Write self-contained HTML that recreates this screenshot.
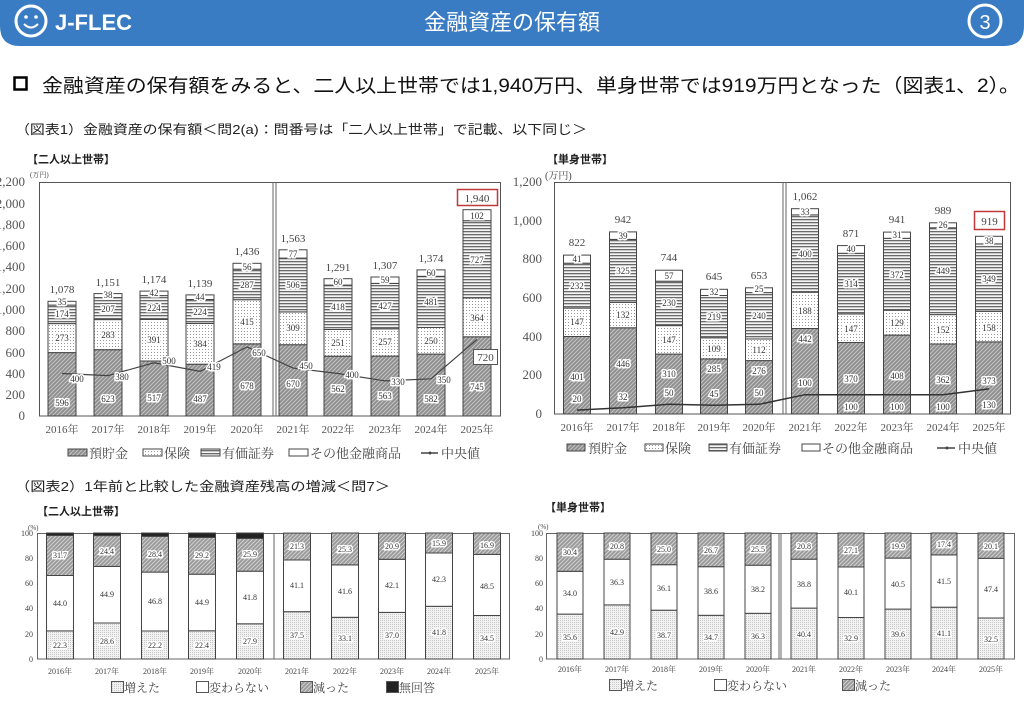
<!DOCTYPE html>
<html><head><meta charset="utf-8"><style>
html,body{margin:0;padding:0;background:#fff;width:1024px;height:710px;overflow:hidden}
svg{display:block}
.s{font-family:"Liberation Sans","Noto Sans CJK JP",sans-serif}
.m{font-family:"Liberation Serif","Noto Serif CJK SC",serif}
.l{font-family:"Liberation Serif","Noto Serif CJK SC",serif;font-size:9px;text-anchor:middle;paint-order:stroke;stroke:#fff;stroke-width:3px;fill:#333}
.t{font-family:"Liberation Serif","Noto Serif CJK SC",serif;font-size:11px;text-anchor:middle;fill:#444}
.y{font-family:"Liberation Serif",serif;font-size:13px;text-anchor:end;fill:#555}
.ys{font-family:"Liberation Serif",serif;font-size:8px;text-anchor:end;fill:#444}
.x{font-family:"Liberation Serif","Noto Serif CJK SC",serif;font-size:11px;text-anchor:middle;fill:#555}
.xs{font-family:"Liberation Serif","Noto Serif CJK SC",serif;font-size:8px;text-anchor:middle;fill:#444}
.b rect{stroke:#444;stroke-width:1}
.sl{font-family:"Liberation Serif","Noto Serif CJK SC",serif;font-size:8px;text-anchor:middle;paint-order:stroke;stroke:#fff;stroke-width:3px;fill:#333}
</style></head><body>
<svg width="1024" height="710" viewBox="0 0 1024 710" xmlns="http://www.w3.org/2000/svg">
<defs>
<pattern id="dep" patternUnits="userSpaceOnUse" width="4" height="4"><rect width="4" height="4" fill="#8e8e8e"/><path d="M0 4L4 0M-1 1L1 -1M3 5L5 3" stroke="#c4c4c4" stroke-width="1"/></pattern>
<pattern id="ins" patternUnits="userSpaceOnUse" width="3" height="3"><rect width="3" height="3" fill="#fff"/><rect x="1" y="1" width="1" height="1" fill="#9a9a9a"/></pattern>
<pattern id="sec" patternUnits="userSpaceOnUse" width="4" height="3"><rect width="4" height="3" fill="#f4f4f4"/><rect y="0" width="4" height="1.3" fill="#6a6a6a"/></pattern>
<pattern id="inc" patternUnits="userSpaceOnUse" width="2" height="2"><rect width="2" height="2" fill="#f2f2f2"/><rect width="1" height="1" fill="#c8c8c8"/></pattern>
<pattern id="dec" patternUnits="userSpaceOnUse" width="4" height="4"><rect width="4" height="4" fill="#9a9a9a"/><path d="M0 4L4 0M-1 1L1 -1M3 5L5 3" stroke="#cfcfcf" stroke-width="1"/></pattern>
</defs>

<!-- header -->
<path d="M0 0H1024V26Q1024 46 1004 46H20Q0 46 0 26Z" fill="#3a7cc3"/>
<circle cx="31" cy="21" r="15" fill="none" stroke="#fff" stroke-width="3"/>
<circle cx="26" cy="17" r="1.8" fill="#fff"/><circle cx="36" cy="17" r="1.8" fill="#fff"/>
<path d="M24 24Q31 31 38 24" stroke="#fff" stroke-width="2" fill="none"/>
<text x="55" y="30" class="s" font-size="22" font-weight="bold" fill="#fff">J-FLEC</text>
<text x="512" y="30" class="s" font-size="22" fill="#fff" text-anchor="middle">金融資産の保有額</text>
<circle cx="985" cy="21" r="16" fill="none" stroke="#fff" stroke-width="3"/>
<text x="985" y="29" class="s" font-size="20" fill="#fff" text-anchor="middle">3</text>

<rect x="14.5" y="77.5" width="12" height="12" fill="none" stroke="#000" stroke-width="2.5"/>
<text x="42" y="92" class="s" font-size="19" fill="#111" textLength="978" lengthAdjust="spacingAndGlyphs">金融資産の保有額をみると、二人以上世帯では1,940万円、単身世帯では919万円となった（図表1、2）。</text>
<text x="15" y="134" class="s" font-size="13" fill="#222" textLength="572" lengthAdjust="spacingAndGlyphs">（図表1）金融資産の保有額＜問2(a)：問番号は「二人以上世帯」で記載、以下同じ＞</text>
<text x="27" y="163" class="s" font-size="11" font-weight="bold" fill="#222">【二人以上世帯】</text>
<text x="547" y="163" class="s" font-size="11" font-weight="bold" fill="#222">【単身世帯】</text>
<text x="30" y="177" class="m" font-size="7" fill="#444">(万円)</text>
<text x="545" y="179" class="m" font-size="10" fill="#444">(万円)</text>

<!-- CHART 1 -->
<rect x="39.5" y="182.5" width="461" height="233.5" fill="none" stroke="#555"/>
<g>
<text class="y" x="25" y="420">0</text><text class="y" x="25" y="399">200</text><text class="y" x="25" y="378">400</text><text class="y" x="25" y="357">600</text><text class="y" x="25" y="335">800</text><text class="y" x="25" y="314">1,000</text><text class="y" x="25" y="293">1,200</text><text class="y" x="25" y="271">1,400</text><text class="y" x="25" y="250">1,600</text><text class="y" x="25" y="229">1,800</text><text class="y" x="25" y="208">2,000</text><text class="y" x="25" y="186">2,200</text>
</g>
<line x1="273" y1="182" x2="273" y2="416" stroke="#666"/><line x1="276" y1="182" x2="276" y2="416" stroke="#666"/>
<g class="b">
<rect x="48" y="352.6" width="28" height="63.4" fill="url(#dep)"/><rect x="48" y="323.6" width="28" height="29" fill="url(#ins)"/><rect x="48" y="305.1" width="28" height="18.5" fill="url(#sec)"/><rect x="48" y="301.3" width="28" height="3.8" fill="#fff"/>
<rect x="94" y="349.7" width="28" height="66.3" fill="url(#dep)"/><rect x="94" y="319.6" width="28" height="30.1" fill="url(#ins)"/><rect x="94" y="297.6" width="28" height="22" fill="url(#sec)"/><rect x="94" y="293.6" width="28" height="4" fill="#fff"/>
<rect x="140" y="361" width="28" height="55" fill="url(#dep)"/><rect x="140" y="319.4" width="28" height="41.6" fill="url(#ins)"/><rect x="140" y="295.6" width="28" height="23.8" fill="url(#sec)"/><rect x="140" y="291.1" width="28" height="4.5" fill="#fff"/>
<rect x="186" y="364.2" width="28" height="51.8" fill="url(#dep)"/><rect x="186" y="323.4" width="28" height="40.8" fill="url(#ins)"/><rect x="186" y="299.5" width="28" height="23.9" fill="url(#sec)"/><rect x="186" y="294.9" width="28" height="4.6" fill="#fff"/>
<rect x="233" y="343.9" width="28" height="72.1" fill="url(#dep)"/><rect x="233" y="299.7" width="28" height="44.2" fill="url(#ins)"/><rect x="233" y="269.2" width="28" height="30.5" fill="url(#sec)"/><rect x="233" y="263.3" width="28" height="5.9" fill="#fff"/>
<rect x="279" y="344.7" width="28" height="71.3" fill="url(#dep)"/><rect x="279" y="311.9" width="28" height="32.8" fill="url(#ins)"/><rect x="279" y="258.1" width="28" height="53.8" fill="url(#sec)"/><rect x="279" y="249.8" width="28" height="8.3" fill="#fff"/>
<rect x="324" y="356.2" width="28" height="59.8" fill="url(#dep)"/><rect x="324" y="329.5" width="28" height="26.7" fill="url(#ins)"/><rect x="324" y="285.1" width="28" height="44.4" fill="url(#sec)"/><rect x="324" y="278.7" width="28" height="6.4" fill="#fff"/>
<rect x="371" y="356.1" width="28" height="59.9" fill="url(#dep)"/><rect x="371" y="328.8" width="28" height="27.3" fill="url(#ins)"/><rect x="371" y="283.4" width="28" height="45.4" fill="url(#sec)"/><rect x="371" y="277" width="28" height="6.4" fill="#fff"/>
<rect x="417" y="354.1" width="28" height="61.9" fill="url(#dep)"/><rect x="417" y="327.5" width="28" height="26.6" fill="url(#ins)"/><rect x="417" y="276.3" width="28" height="51.2" fill="url(#sec)"/><rect x="417" y="269.9" width="28" height="6.4" fill="#fff"/>
<rect x="463" y="336.8" width="28" height="79.2" fill="url(#dep)"/><rect x="463" y="298" width="28" height="38.8" fill="url(#ins)"/><rect x="463" y="220.7" width="28" height="77.3" fill="url(#sec)"/><rect x="463" y="209.7" width="28" height="11" fill="#fff"/>
</g>
<g>
<text class="l" x="62" y="406">596</text><text class="l" x="62" y="341">273</text><text class="l" x="62" y="317">174</text><text class="l" x="62" y="305">35</text>
<text class="l" x="108" y="402">623</text><text class="l" x="108" y="338">283</text><text class="l" x="108" y="312">207</text><text class="l" x="108" y="298">38</text>
<text class="l" x="154" y="401">517</text><text class="l" x="154" y="343">391</text><text class="l" x="154" y="311">224</text><text class="l" x="154" y="296">42</text>
<text class="l" x="200" y="402">487</text><text class="l" x="200" y="347">384</text><text class="l" x="200" y="315">224</text><text class="l" x="200" y="300">44</text>
<text class="l" x="247" y="389">678</text><text class="l" x="247" y="325">415</text><text class="l" x="247" y="288">287</text><text class="l" x="247" y="270">56</text>
<text class="l" x="293" y="387">670</text><text class="l" x="293" y="331">309</text><text class="l" x="293" y="288">506</text><text class="l" x="293" y="257">77</text>
<text class="l" x="338" y="392">562</text><text class="l" x="338" y="346">251</text><text class="l" x="338" y="310">418</text><text class="l" x="338" y="285">60</text>
<text class="l" x="385" y="399">563</text><text class="l" x="385" y="345">257</text><text class="l" x="385" y="309">427</text><text class="l" x="385" y="283">59</text>
<text class="l" x="431" y="402">582</text><text class="l" x="431" y="344">250</text><text class="l" x="431" y="305">481</text><text class="l" x="431" y="276">60</text>
<text class="l" x="477" y="390" font-size="12">745</text><text class="l" x="477" y="321" font-size="12">364</text><text class="l" x="477" y="263" font-size="12">727</text><text class="l" x="477" y="219" font-size="12">102</text>
</g>
<g>
<text class="t" x="62" y="293">1,078</text><text class="t" x="108" y="286">1,151</text><text class="t" x="154" y="283">1,174</text><text class="t" x="200" y="287">1,139</text><text class="t" x="247" y="255">1,436</text><text class="t" x="293" y="242">1,563</text><text class="t" x="338" y="271">1,291</text><text class="t" x="385" y="269">1,307</text><text class="t" x="431" y="262">1,374</text>
<rect x="457.5" y="189.5" width="40" height="16" fill="#fff" stroke="#c0393b" stroke-width="1.5"/><text class="t" x="477" y="202">1,940</text>
</g>
<polyline points="62,373.5 108,375.6 154,362.8 200,371.4 247,346.9 293,368.1 338,373.5 385,380.9 431,378.8 477,339.4" fill="none" stroke="#444" stroke-width="1.2"/>
<g>
<text class="l" x="77" y="382">400</text><text class="l" x="122" y="380">380</text><text class="l" x="169" y="364">500</text><text class="l" x="214" y="370">419</text><text class="l" x="259" y="356">650</text><text class="l" x="306" y="369">450</text><text class="l" x="352" y="378">400</text><text class="l" x="398" y="385">330</text><text class="l" x="444" y="383">350</text>
<rect x="473.5" y="349.5" width="24" height="15" fill="#fff" stroke="#555"/><text class="t" x="485.5" y="361">720</text>
</g>
<g>
<text class="x" x="62" y="433">2016年</text><text class="x" x="108" y="433">2017年</text><text class="x" x="154" y="433">2018年</text><text class="x" x="200" y="433">2019年</text><text class="x" x="247" y="433">2020年</text><text class="x" x="293" y="433">2021年</text><text class="x" x="338" y="433">2022年</text><text class="x" x="385" y="433">2023年</text><text class="x" x="431" y="433">2024年</text><text class="x" x="477" y="433">2025年</text>
</g>
<g class="m" font-size="13" fill="#444">
<rect x="68" y="449" width="19" height="7" fill="url(#dep)" stroke="#444"/><text x="89" y="458">預貯金</text>
<rect x="143" y="449" width="19" height="7" fill="url(#ins)" stroke="#444"/><text x="164" y="458">保険</text>
<rect x="201" y="449" width="19" height="7" fill="url(#sec)" stroke="#444"/><text x="222" y="458">有価証券</text>
<rect x="289" y="449" width="19" height="7" fill="#fff" stroke="#444"/><text x="310" y="458">その他金融商品</text>
<line x1="421" y1="453" x2="438" y2="453" stroke="#444" stroke-width="1.5"/><circle cx="430" cy="453" r="1.5" fill="#444"/><text x="441" y="458">中央値</text>
</g>

<!-- CHART 2 -->
<rect x="554.5" y="182.5" width="456" height="231.5" fill="none" stroke="#555"/>
<g>
<text class="y" x="542" y="418">0</text><text class="y" x="542" y="379">200</text><text class="y" x="542" y="341">400</text><text class="y" x="542" y="302">600</text><text class="y" x="542" y="263">800</text><text class="y" x="542" y="225">1,000</text><text class="y" x="542" y="186">1,200</text>
</g>
<line x1="783" y1="182" x2="783" y2="414" stroke="#666"/><line x1="786" y1="182" x2="786" y2="414" stroke="#666"/>
<g class="b">
<rect x="563.5" y="336.5" width="27" height="77.5" fill="url(#dep)"/><rect x="563.5" y="308.1" width="27" height="28.4" fill="url(#ins)"/><rect x="563.5" y="263.2" width="27" height="44.9" fill="url(#sec)"/><rect x="563.5" y="255.1" width="27" height="8.1" fill="#fff"/>
<rect x="609.5" y="327.8" width="27" height="86.2" fill="url(#dep)"/><rect x="609.5" y="302.3" width="27" height="25.5" fill="url(#ins)"/><rect x="609.5" y="239.4" width="27" height="62.9" fill="url(#sec)"/><rect x="609.5" y="231.9" width="27" height="7.5" fill="#fff"/>
<rect x="655.5" y="354.1" width="27" height="59.9" fill="url(#dep)"/><rect x="655.5" y="325.6" width="27" height="28.5" fill="url(#ins)"/><rect x="655.5" y="281.2" width="27" height="44.4" fill="url(#sec)"/><rect x="655.5" y="270.2" width="27" height="11" fill="#fff"/>
<rect x="700.5" y="358.9" width="27" height="55.1" fill="url(#dep)"/><rect x="700.5" y="337.8" width="27" height="21.1" fill="url(#ins)"/><rect x="700.5" y="295.5" width="27" height="42.3" fill="url(#sec)"/><rect x="700.5" y="289.3" width="27" height="6.2" fill="#fff"/>
<rect x="745.5" y="360.6" width="27" height="53.4" fill="url(#dep)"/><rect x="745.5" y="339" width="27" height="21.6" fill="url(#ins)"/><rect x="745.5" y="292.6" width="27" height="46.4" fill="url(#sec)"/><rect x="745.5" y="287.8" width="27" height="4.8" fill="#fff"/>
<rect x="791.5" y="328.5" width="27" height="85.5" fill="url(#dep)"/><rect x="791.5" y="292.2" width="27" height="36.3" fill="url(#ins)"/><rect x="791.5" y="214.9" width="27" height="77.3" fill="url(#sec)"/><rect x="791.5" y="208.7" width="27" height="6.2" fill="#fff"/>
<rect x="837.5" y="342.5" width="27" height="71.5" fill="url(#dep)"/><rect x="837.5" y="314" width="27" height="28.5" fill="url(#ins)"/><rect x="837.5" y="253.3" width="27" height="60.7" fill="url(#sec)"/><rect x="837.5" y="245.6" width="27" height="7.7" fill="#fff"/>
<rect x="883.5" y="335.1" width="27" height="78.9" fill="url(#dep)"/><rect x="883.5" y="310.2" width="27" height="24.9" fill="url(#ins)"/><rect x="883.5" y="238.3" width="27" height="71.9" fill="url(#sec)"/><rect x="883.5" y="232.1" width="27" height="6.2" fill="#fff"/>
<rect x="929.5" y="344" width="27" height="70" fill="url(#dep)"/><rect x="929.5" y="314.6" width="27" height="29.4" fill="url(#ins)"/><rect x="929.5" y="227.8" width="27" height="86.8" fill="url(#sec)"/><rect x="929.5" y="222.8" width="27" height="5" fill="#fff"/>
<rect x="975.5" y="341.9" width="27" height="72.1" fill="url(#dep)"/><rect x="975.5" y="311.3" width="27" height="30.6" fill="url(#ins)"/><rect x="975.5" y="243.9" width="27" height="67.4" fill="url(#sec)"/><rect x="975.5" y="236.3" width="27" height="7.6" fill="#fff"/>
</g>
<polyline points="577,410.1 623,407.8 669,404.3 714,405.3 759,404.3 805,394.7 851,394.7 897,394.7 943,394.7 989,388.9" fill="none" stroke="#333" stroke-width="1.5"/>
<g>
<text class="l" x="577" y="380">401</text><text class="l" x="577" y="325">147</text><text class="l" x="577" y="289">232</text><text class="l" x="577" y="262">41</text><text class="l" x="577" y="402">20</text>
<text class="l" x="623" y="367">446</text><text class="l" x="623" y="318">132</text><text class="l" x="623" y="274">325</text><text class="l" x="623" y="239">39</text><text class="l" x="623" y="400">32</text>
<text class="l" x="669" y="377">310</text><text class="l" x="669" y="343">147</text><text class="l" x="669" y="306">230</text><text class="l" x="669" y="279">57</text><text class="l" x="669" y="396">50</text>
<text class="l" x="714" y="372">285</text><text class="l" x="714" y="352">109</text><text class="l" x="714" y="320">219</text><text class="l" x="714" y="295">32</text><text class="l" x="714" y="397">45</text>
<text class="l" x="759" y="374">276</text><text class="l" x="759" y="353">112</text><text class="l" x="759" y="319">240</text><text class="l" x="759" y="292">25</text><text class="l" x="759" y="396">50</text>
<text class="l" x="805" y="342">442</text><text class="l" x="805" y="314">188</text><text class="l" x="805" y="257">400</text><text class="l" x="805" y="215">33</text><text class="l" x="805" y="386">100</text>
<text class="l" x="851" y="382">370</text><text class="l" x="851" y="332">147</text><text class="l" x="851" y="287">314</text><text class="l" x="851" y="252">40</text><text class="l" x="851" y="410">100</text>
<text class="l" x="897" y="379">408</text><text class="l" x="897" y="326">129</text><text class="l" x="897" y="278">372</text><text class="l" x="897" y="238">31</text><text class="l" x="897" y="410">100</text>
<text class="l" x="943" y="383">362</text><text class="l" x="943" y="333">152</text><text class="l" x="943" y="274">449</text><text class="l" x="943" y="228">26</text><text class="l" x="943" y="410">100</text>
<text class="l" x="989" y="384" font-size="12">373</text><text class="l" x="989" y="331" font-size="12">158</text><text class="l" x="989" y="282" font-size="12">349</text><text class="l" x="989" y="244" font-size="11">38</text><text class="l" x="989" y="408" font-size="12">130</text>
</g>
<g font-size="9">
<text class="t" x="577" y="246" font-size="9">822</text><text class="t" x="623" y="223" font-size="9">942</text><text class="t" x="669" y="261" font-size="9">744</text><text class="t" x="714" y="280" font-size="9">645</text><text class="t" x="759" y="279" font-size="9">653</text><text class="t" x="805" y="200" font-size="9">1,062</text><text class="t" x="851" y="237" font-size="9">871</text><text class="t" x="897" y="223" font-size="9">941</text><text class="t" x="943" y="214" font-size="9">989</text>
<rect x="974.5" y="211.5" width="30" height="18" fill="#fff" stroke="#c0393b" stroke-width="1.5"/><text class="t" x="989.5" y="225" font-size="12">919</text>
</g>
<g>
<text class="x" x="577" y="431">2016年</text><text class="x" x="623" y="431">2017年</text><text class="x" x="669" y="431">2018年</text><text class="x" x="714" y="431">2019年</text><text class="x" x="759" y="431">2020年</text><text class="x" x="805" y="431">2021年</text><text class="x" x="851" y="431">2022年</text><text class="x" x="897" y="431">2023年</text><text class="x" x="943" y="431">2024年</text><text class="x" x="989" y="431">2025年</text>
</g>
<g class="m" font-size="13" fill="#444">
<rect x="567" y="444" width="18" height="7" fill="url(#dep)" stroke="#444"/><text x="588" y="453">預貯金</text>
<rect x="645" y="444" width="18" height="7" fill="url(#ins)" stroke="#444"/><text x="665" y="453">保険</text>
<rect x="709" y="444" width="18" height="7" fill="url(#sec)" stroke="#444"/><text x="729" y="453">有価証券</text>
<rect x="802" y="444" width="18" height="7" fill="#fff" stroke="#444"/><text x="822" y="453">その他金融商品</text>
<line x1="937" y1="448" x2="955" y2="448" stroke="#444" stroke-width="1.5"/><circle cx="947" cy="448" r="1.5" fill="#444"/><text x="958" y="453">中央値</text>
</g>

<!-- section 2 headers -->
<text x="15" y="491" class="s" font-size="13" fill="#222" textLength="375" lengthAdjust="spacingAndGlyphs">（図表2）1年前と比較した金融資産残高の増減＜問7＞</text>
<text x="37" y="515" class="s" font-size="11" font-weight="bold" fill="#222">【二人以上世帯】</text>
<text x="545" y="511" class="s" font-size="11" font-weight="bold" fill="#222">【単身世帯】</text>
<text x="28" y="530" class="m" font-size="7" fill="#444">(%)</text>
<text x="538" y="529" class="m" font-size="7" fill="#444">(%)</text>

<!-- CHART 3 -->
<rect x="37.5" y="533.5" width="472" height="125.5" fill="none" stroke="#666"/>
<g><text class="ys" x="33" y="662">0</text><text class="ys" x="33" y="637">20</text><text class="ys" x="33" y="611">40</text><text class="ys" x="33" y="586">60</text><text class="ys" x="33" y="561">80</text><text class="ys" x="33" y="536">100</text></g>
<line x1="274" y1="533" x2="274" y2="659" stroke="#666"/>
<g class="b">
<rect x="46.5" y="630.9" width="27" height="28.1" fill="url(#inc)"/><rect x="46.5" y="575.5" width="27" height="55.4" fill="#fff"/><rect x="46.5" y="535.5" width="27" height="40" fill="url(#dec)"/><rect x="46.5" y="533" width="27" height="2.5" fill="#222"/>
<rect x="93.5" y="623" width="27" height="36" fill="url(#inc)"/><rect x="93.5" y="566.4" width="27" height="56.6" fill="#fff"/><rect x="93.5" y="535.6" width="27" height="30.8" fill="url(#dec)"/><rect x="93.5" y="533" width="27" height="2.6" fill="#222"/>
<rect x="141.5" y="631" width="27" height="28" fill="url(#inc)"/><rect x="141.5" y="572.1" width="27" height="58.9" fill="#fff"/><rect x="141.5" y="536.3" width="27" height="35.8" fill="url(#dec)"/><rect x="141.5" y="533" width="27" height="3.3" fill="#222"/>
<rect x="188.5" y="630.8" width="27" height="28.2" fill="url(#inc)"/><rect x="188.5" y="574.2" width="27" height="56.6" fill="#fff"/><rect x="188.5" y="537.4" width="27" height="36.8" fill="url(#dec)"/><rect x="188.5" y="533" width="27" height="4.4" fill="#222"/>
<rect x="236.5" y="623.8" width="27" height="35.2" fill="url(#inc)"/><rect x="236.5" y="571.2" width="27" height="52.6" fill="#fff"/><rect x="236.5" y="538.5" width="27" height="32.7" fill="url(#dec)"/><rect x="236.5" y="533" width="27" height="5.5" fill="#222"/>
<rect x="283.5" y="611.7" width="27" height="47.3" fill="url(#inc)"/><rect x="283.5" y="560" width="27" height="51.7" fill="#fff"/><rect x="283.5" y="533.1" width="27" height="26.9" fill="url(#dec)"/>
<rect x="331.5" y="617.3" width="27" height="41.7" fill="url(#inc)"/><rect x="331.5" y="564.9" width="27" height="52.4" fill="#fff"/><rect x="331.5" y="533" width="27" height="31.9" fill="url(#dec)"/>
<rect x="378.5" y="612.4" width="27" height="46.6" fill="url(#inc)"/><rect x="378.5" y="559.3" width="27" height="53.1" fill="#fff"/><rect x="378.5" y="533" width="27" height="26.3" fill="url(#dec)"/>
<rect x="425.5" y="606.3" width="27" height="52.7" fill="url(#inc)"/><rect x="425.5" y="553" width="27" height="53.3" fill="#fff"/><rect x="425.5" y="533" width="27" height="20" fill="url(#dec)"/>
<rect x="473.5" y="615.5" width="27" height="43.5" fill="url(#inc)"/><rect x="473.5" y="554.4" width="27" height="61.1" fill="#fff"/><rect x="473.5" y="533" width="27" height="21.4" fill="url(#dec)"/>
</g>
<g>
<text class="sl" x="60" y="648">22.3</text><text class="sl" x="60" y="606">44.0</text><text class="sl" x="60" y="558">31.7</text>
<text class="sl" x="107" y="644">28.6</text><text class="sl" x="107" y="597">44.9</text><text class="sl" x="107" y="554">24.4</text>
<text class="sl" x="155" y="648">22.2</text><text class="sl" x="155" y="604">46.8</text><text class="sl" x="155" y="557">28.4</text>
<text class="sl" x="202" y="648">22.4</text><text class="sl" x="202" y="605">44.9</text><text class="sl" x="202" y="558">29.2</text>
<text class="sl" x="250" y="644">27.9</text><text class="sl" x="250" y="600">41.8</text><text class="sl" x="250" y="557">25.9</text>
<text class="sl" x="297" y="638">37.5</text><text class="sl" x="297" y="588">41.1</text><text class="sl" x="297" y="549">21.3</text>
<text class="sl" x="345" y="641">33.1</text><text class="sl" x="345" y="594">41.6</text><text class="sl" x="345" y="552">25.3</text>
<text class="sl" x="392" y="638">37.0</text><text class="sl" x="392" y="588">42.1</text><text class="sl" x="392" y="549">20.9</text>
<text class="sl" x="439" y="635">41.8</text><text class="sl" x="439" y="582">42.3</text><text class="sl" x="439" y="546">15.9</text>
<text class="sl" x="487" y="641" font-size="11">34.5</text><text class="sl" x="487" y="589" font-size="11">48.5</text><text class="sl" x="487" y="548" font-size="11">16.9</text>
</g>
<g>
<text class="xs" x="60" y="674">2016年</text><text class="xs" x="107" y="674">2017年</text><text class="xs" x="155" y="674">2018年</text><text class="xs" x="202" y="674">2019年</text><text class="xs" x="250" y="674">2020年</text><text class="xs" x="297" y="674">2021年</text><text class="xs" x="345" y="674">2022年</text><text class="xs" x="392" y="674">2023年</text><text class="xs" x="439" y="674">2024年</text><text class="xs" x="487" y="674">2025年</text>
</g>
<g class="m" font-size="12" fill="#444">
<rect x="111.5" y="681.5" width="12" height="11" fill="url(#inc)" stroke="#555"/><text x="124" y="692">増えた</text>
<rect x="196.5" y="681.5" width="12" height="11" fill="#fff" stroke="#555"/><text x="209" y="692">変わらない</text>
<rect x="300.5" y="681.5" width="12" height="11" fill="url(#dec)" stroke="#555"/><text x="313" y="692">減った</text>
<rect x="386.5" y="681.5" width="12" height="11" fill="#222" stroke="#555"/><text x="399" y="692">無回答</text>
</g>

<!-- CHART 4 -->
<rect x="546.5" y="533.5" width="468" height="125.5" fill="none" stroke="#666"/>
<g><text class="ys" x="543" y="662">0</text><text class="ys" x="543" y="637">20</text><text class="ys" x="543" y="611">40</text><text class="ys" x="543" y="586">60</text><text class="ys" x="543" y="561">80</text><text class="ys" x="543" y="536">100</text></g>
<line x1="779" y1="533" x2="779" y2="659" stroke="#666"/><line x1="781" y1="533" x2="781" y2="659" stroke="#666"/>
<g class="b">
<rect x="557" y="614.1" width="26" height="44.9" fill="url(#inc)"/><rect x="557" y="571.3" width="26" height="42.8" fill="#fff"/><rect x="557" y="533" width="26" height="38.3" fill="url(#dec)"/>
<rect x="604" y="604.9" width="26" height="54.1" fill="url(#inc)"/><rect x="604" y="559.2" width="26" height="45.7" fill="#fff"/><rect x="604" y="533" width="26" height="26.2" fill="url(#dec)"/>
<rect x="651" y="610.2" width="26" height="48.8" fill="url(#inc)"/><rect x="651" y="564.7" width="26" height="45.5" fill="#fff"/><rect x="651" y="533" width="26" height="31.7" fill="url(#dec)"/>
<rect x="698" y="615.3" width="26" height="43.7" fill="url(#inc)"/><rect x="698" y="566.7" width="26" height="48.6" fill="#fff"/><rect x="698" y="533" width="26" height="33.7" fill="url(#dec)"/>
<rect x="745" y="613.3" width="26" height="45.7" fill="url(#inc)"/><rect x="745" y="565.2" width="26" height="48.1" fill="#fff"/><rect x="745" y="533" width="26" height="32.2" fill="url(#dec)"/>
<rect x="791" y="608.1" width="26" height="50.9" fill="url(#inc)"/><rect x="791" y="559.2" width="26" height="48.9" fill="#fff"/><rect x="791" y="533" width="26" height="26.2" fill="url(#dec)"/>
<rect x="838" y="617.5" width="26" height="41.5" fill="url(#inc)"/><rect x="838" y="567" width="26" height="50.5" fill="#fff"/><rect x="838" y="533" width="26" height="34" fill="url(#dec)"/>
<rect x="885" y="609.1" width="26" height="49.9" fill="url(#inc)"/><rect x="885" y="558.1" width="26" height="51" fill="#fff"/><rect x="885" y="533" width="26" height="25.1" fill="url(#dec)"/>
<rect x="931" y="607.2" width="26" height="51.8" fill="url(#inc)"/><rect x="931" y="554.9" width="26" height="52.3" fill="#fff"/><rect x="931" y="533" width="26" height="21.9" fill="url(#dec)"/>
<rect x="978" y="618" width="26" height="41" fill="url(#inc)"/><rect x="978" y="558.3" width="26" height="59.7" fill="#fff"/><rect x="978" y="533" width="26" height="25.3" fill="url(#dec)"/>
</g>
<g>
<text class="sl" x="570" y="640">35.6</text><text class="sl" x="570" y="596">34.0</text><text class="sl" x="570" y="555">30.4</text>
<text class="sl" x="617" y="635">42.9</text><text class="sl" x="617" y="585">36.3</text><text class="sl" x="617" y="549">20.8</text>
<text class="sl" x="664" y="638">38.7</text><text class="sl" x="664" y="591">36.1</text><text class="sl" x="664" y="552">25.0</text>
<text class="sl" x="711" y="640">34.7</text><text class="sl" x="711" y="594">38.6</text><text class="sl" x="711" y="553">26.7</text>
<text class="sl" x="758" y="639">36.3</text><text class="sl" x="758" y="592">38.2</text><text class="sl" x="758" y="552">25.5</text>
<text class="sl" x="804" y="637">40.4</text><text class="sl" x="804" y="587">38.8</text><text class="sl" x="804" y="549">20.8</text>
<text class="sl" x="851" y="641">32.9</text><text class="sl" x="851" y="595">40.1</text><text class="sl" x="851" y="553">27.1</text>
<text class="sl" x="898" y="637">39.6</text><text class="sl" x="898" y="587">40.5</text><text class="sl" x="898" y="549">19.9</text>
<text class="sl" x="944" y="636">41.1</text><text class="sl" x="944" y="584">41.5</text><text class="sl" x="944" y="547">17.4</text>
<text class="sl" x="991" y="642" font-size="11">32.5</text><text class="sl" x="991" y="592" font-size="11">47.4</text><text class="sl" x="991" y="549" font-size="11">20.1</text>
</g>
<g>
<text class="xs" x="570" y="672">2016年</text><text class="xs" x="617" y="672">2017年</text><text class="xs" x="664" y="672">2018年</text><text class="xs" x="711" y="672">2019年</text><text class="xs" x="758" y="672">2020年</text><text class="xs" x="804" y="672">2021年</text><text class="xs" x="851" y="672">2022年</text><text class="xs" x="898" y="672">2023年</text><text class="xs" x="944" y="672">2024年</text><text class="xs" x="991" y="672">2025年</text>
</g>
<g class="m" font-size="12" fill="#444">
<rect x="609.5" y="679.5" width="12" height="11" fill="url(#inc)" stroke="#555"/><text x="622" y="690">増えた</text>
<rect x="714.5" y="679.5" width="12" height="11" fill="#fff" stroke="#555"/><text x="727" y="690">変わらない</text>
<rect x="842.5" y="679.5" width="12" height="11" fill="url(#dec)" stroke="#555"/><text x="855" y="690">減った</text>
</g>
</svg>
</body></html>
